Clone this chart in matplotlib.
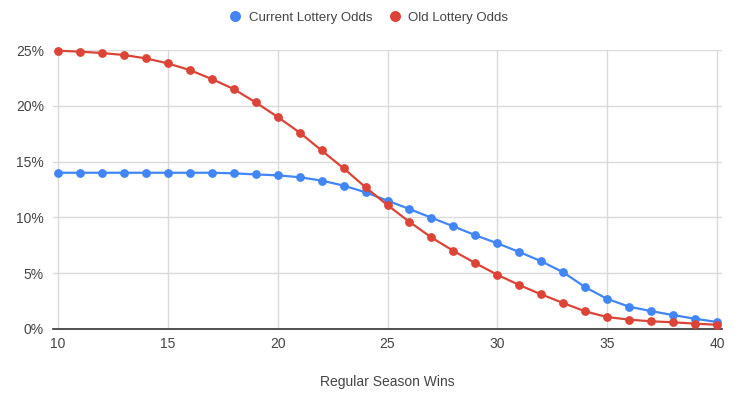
import matplotlib.pyplot as plt
from matplotlib.ticker import FuncFormatter

plt.rcParams['font.family'] = ['Liberation Sans', 'DejaVu Sans']

wins = list(range(10, 41))
current_odds = [14.0, 14.0, 14.0, 14.0, 14.0, 14.0, 14.0, 14.0, 13.95, 13.85, 13.77,
                13.6, 13.3, 12.85, 12.25, 11.5, 10.75, 9.97, 9.2, 8.4, 7.68,
                6.9, 6.07, 5.08, 3.75, 2.7, 2.0, 1.6, 1.25, 0.92, 0.63]
old_odds = [24.94, 24.85, 24.73, 24.55, 24.25, 23.8, 23.2, 22.4, 21.5, 20.3, 19.0,
            17.6, 16.0, 14.4, 12.7, 11.1, 9.6, 8.2, 7.0, 5.9, 4.86,
            3.94, 3.1, 2.33, 1.58, 1.07, 0.84, 0.69, 0.6, 0.48, 0.38]

blue = '#4285F4'
red = '#DB4437'
txt = '#444444'

fig = plt.figure(figsize=(7.5, 3.98), dpi=100)
# plot area: 10 wins at x=58px, 40 wins at x=717px, axis line a bit wider
ax = fig.add_axes([53 / 750, 1 - 329 / 398, 669 / 750, 279 / 398])

ax.plot(wins, current_odds, '-o', color=blue, lw=1.6, markersize=5.3,
        label='Current Lottery Odds', clip_on=False, zorder=3)
ax.plot(wins, old_odds, '-o', color=red, lw=1.6, markersize=5.3,
        label='Old Lottery Odds', clip_on=False, zorder=4)

ax.set_xlim(10 - 0.23, 40 + 0.23)
ax.set_ylim(0, 25)
ax.set_xticks(range(10, 41, 5))
ax.set_yticks(range(0, 26, 5))
ax.yaxis.set_major_formatter(FuncFormatter(lambda v, p: f'{int(v)}%'))
ax.grid(True, color='#dadada', lw=1)
ax.set_axisbelow(True)
for s in ['top', 'right', 'left']:
    ax.spines[s].set_visible(False)
ax.spines['bottom'].set_color('#333333')
ax.spines['bottom'].set_linewidth(1.2)
ax.tick_params(length=0, labelsize=10, colors=txt)
ax.tick_params(axis='x', pad=6)
ax.tick_params(axis='y', pad=6.5)
ax.set_xlabel('Regular Season Wins', fontsize=10, color=txt, labelpad=17)

fig.legend(loc='upper center', bbox_to_anchor=(369 / 750, 1.0), ncol=2, frameon=False,
           fontsize=9.5, handlelength=0.8, handletextpad=0.6, columnspacing=1.3,
           markerscale=1.3, labelcolor=txt)
for h in fig.legends[0].legend_handles:
    h.set_linestyle('')

fig.savefig('out.png', dpi=100)
